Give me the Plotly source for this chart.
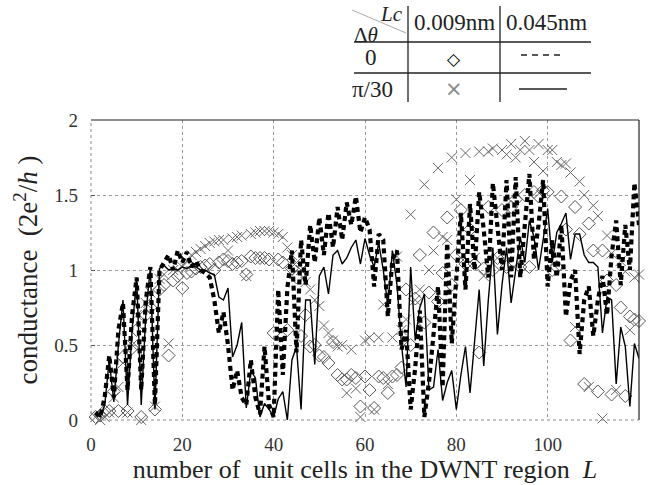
import plotly.graph_objects as go

# ---------------- data ----------------
L = list(range(1, 121))

# dtheta = 0, Lc = 0.009 nm  (diamonds)
g_d0_009 = [0.02, 0.03, 0.06, 0.06, 0.19, 0.06, 0.42, 0.06, 0.48, 0.60,
            0.02, 0.70, 0.75, 0.07, 0.87, 0.90, 0.43, 0.93, 0.96, 0.88,
            0.98, 0.99, 1.01, 1.02, 1.03, 1.04, 1.00, 1.05, 1.07, 1.06,
            1.04, 1.05, 1.06, 0.97, 1.09, 1.08, 1.08, 1.08, 1.07, 0.58,
            1.07, 1.05, 0.60, 1.01, 0.95, 0.56, 0.70, 0.49, 0.50, 0.43,
            0.42, 0.38, 0.52, 0.30, 0.27, 0.27, 0.30, 0.28, 0.09, 0.29,
            0.20, 0.08, 0.29, 0.28, 0.18, 0.29, 0.30, 0.35, 0.87, 0.50,
            0.81, 1.10, 0.65, 0.85, 1.25, 0.79, 0.98, 1.35, 0.90, 1.10,
            1.40, 1.04, 1.27, 1.04, 0.45, 1.01, 1.42, 1.00, 1.08, 1.40,
            1.02, 1.42, 1.47, 1.02, 1.50, 1.02, 1.52, 1.49, 1.53, 1.52,
            1.00, 1.02, 1.49, 1.27, 0.53, 1.42, 1.24, 0.24, 1.31, 1.13,
            0.19, 1.13, 0.93, 0.17, 0.90, 0.75, 0.16, 0.69, 0.67, 0.66]

# dtheta = 0, Lc = 0.045 nm  (dashed line)
g_d0_045 = [0.05, 0.02, 0.15, 0.43, 0.15, 0.60, 0.78, 0.20, 0.70, 0.95,
            0.20, 0.80, 1.02, 0.10, 1.00, 1.05, 1.10, 1.00, 1.13, 1.05,
            1.12, 1.02, 1.06, 1.00, 0.98, 0.95, 0.80, 0.58, 0.72, 0.50,
            0.20, 0.33, 0.15, 0.10, 0.40, 0.15, 0.04, 0.49, 0.10, 0.02,
            0.87, 0.30, 0.88, 1.13, 0.45, 1.20, 0.90, 1.30, 1.05, 1.35,
            1.10, 1.38, 1.15, 1.42, 1.20, 1.45, 1.30, 1.49, 1.25, 1.35,
            1.27, 0.89, 1.24, 1.20, 0.69, 1.07, 1.13, 0.47, 0.60, 0.07,
            0.35, 0.73, 0.02, 0.25, 0.58, 0.89, 0.22, 1.18, 0.51, 0.93,
            1.38, 0.87, 1.44, 1.00, 1.52, 1.27, 0.95, 1.58, 1.30, 1.00,
            1.60, 0.95, 1.62, 0.95, 1.30, 1.64, 1.07, 1.30, 1.60, 0.89,
            1.20, 0.95, 1.30, 0.69, 0.93, 1.00, 0.44, 0.80, 0.89, 0.56,
            0.80, 0.96, 0.70, 1.10, 1.33, 0.90, 1.30, 1.00, 1.58, 1.30]

# dtheta = pi/30, Lc = 0.009 nm  (crosses)
g_p30_009 = [0.02, 0.00, 0.02, 0.05, 0.15, 0.22, 0.38, 0.05, 0.50, 0.70,
             0.00, 0.78, 0.85, 0.09, 0.94, 0.97, 0.51, 1.00, 1.00, 1.02,
             1.06, 1.10, 1.12, 1.14, 1.16, 1.18, 1.19, 1.20, 1.20, 1.13,
             1.21, 1.22, 1.23, 0.96, 1.24, 1.25, 1.26, 1.26, 1.26, 1.25,
             1.24, 1.22, 1.15, 1.10, 1.05, 1.00, 0.92, 0.87, 0.80, 0.76,
             0.63, 0.58, 0.53, 0.49, 0.50, 0.18, 0.47, 0.21, 0.02, 0.53,
             0.55, 0.07, 0.55, 0.77, 0.24, 0.55, 1.09, 0.60, 0.67, 1.37,
             0.80, 0.87, 1.57, 1.00, 1.13, 1.68, 1.22, 1.20, 1.75, 1.47,
             1.08, 1.78, 1.60, 1.08, 1.79, 0.96, 1.79, 1.81, 1.08, 1.80,
             1.77, 1.84, 1.75, 1.80, 1.86, 1.80, 1.72, 1.84, 1.66, 1.80,
             1.80, 1.72, 1.70, 1.71, 1.65, 0.62, 1.59, 1.50, 0.22, 1.43,
             1.36, 0.01, 1.23, 1.11, 0.20, 1.06, 0.99, 0.60, 0.95, 0.97]

# dtheta = pi/30, Lc = 0.045 nm  (solid line)
g_p30_045 = [0.05, 0.02, 0.10, 0.40, 0.12, 0.50, 0.80, 0.10, 0.60, 0.95,
             0.10, 0.70, 1.02, 0.07, 1.01, 1.03, 1.00, 1.01, 1.00, 1.02,
             1.01, 1.03, 1.02, 1.00, 1.00, 0.98, 0.97, 0.82, 0.80, 0.88,
             0.42, 0.50, 0.65, 0.08, 0.33, 0.28, 0.02, 0.11, 0.07, 0.02,
             0.14, 0.19, 0.00, 0.40, 0.49, 0.07, 0.80, 0.80, 0.37, 0.96,
             1.02, 0.84, 1.10, 1.13, 1.04, 1.08, 1.15, 1.20, 1.04, 1.21,
             1.10, 1.02, 1.18, 1.00, 0.76, 1.13, 0.90, 0.50, 0.22, 1.02,
             0.53, 0.75, 0.84, 0.20, 0.22, 0.47, 0.13, 0.25, 0.33, 0.07,
             0.30, 0.49, 0.18, 0.50, 0.87, 0.36, 0.80, 1.15, 0.57, 0.90,
             1.15, 0.78, 1.00, 1.22, 1.05, 1.33, 1.22, 1.00, 1.20, 1.41,
             1.05, 1.25, 1.31, 1.38, 1.07, 1.24, 1.24, 1.10, 1.05, 1.05,
             1.02, 0.58, 0.82, 0.80, 0.24, 0.62, 0.49, 0.09, 0.51, 0.41]

x_ticks = [0, 20, 40, 60, 80, 100, 120]
y_ticks = [0, 0.5, 1, 1.5, 2]
y_tick_text = ["0", "0.5", "1", "1.5", "2"]

# ---------------- figure ----------------
SERIF = "Liberation Serif"
W, H = 650, 485
ML, MR, MT, MB = 91, 11, 120, 65
PW, PH = W - ML - MR, H - MT - MB


def px(xp):
    return (xp - ML) / PW


def py(yp):
    return (H - MB - yp) / PH


fig = go.Figure()

fig.add_trace(go.Scatter(x=L, y=g_d0_009, mode="markers",
                         marker=dict(symbol="diamond-open", size=10,
                                     color="#555", line=dict(width=1)),
                         cliponaxis=False, showlegend=False))
fig.add_trace(go.Scatter(x=L, y=g_p30_009, mode="markers",
                         marker=dict(symbol="x-thin-open", size=10,
                                     color="#666", line=dict(width=1, color="#666")),
                         cliponaxis=False, showlegend=False))
fig.add_trace(go.Scatter(x=L, y=g_p30_045, mode="lines",
                         line=dict(color="black", width=1.4),
                         showlegend=False))
fig.add_trace(go.Scatter(x=L, y=g_d0_045, mode="lines",
                         line=dict(color="black", width=4.2, dash="5px,4px"),
                         showlegend=False))

grid = dict(showgrid=True, gridcolor="#999", griddash="dot", gridwidth=1,
            zeroline=False, automargin=False)
fig.update_xaxes(range=[0, 120], tickvals=x_ticks, ticks="outside", ticklen=7,
                 tickcolor="rgba(0,0,0,0)", **grid,
                 tickfont=dict(family=SERIF, size=19, color="#333"),
                 title=dict(text="number of  unit cells in the DWNT region  <i>L</i>",
                            font=dict(family=SERIF, size=26, color="#222"),
                            standoff=5))
fig.update_yaxes(range=[0, 2], tickvals=y_ticks, ticktext=y_tick_text,
                 ticks="inside", ticklen=4, tickcolor="#555", **grid,
                 ticklabelstandoff=12,
                 tickfont=dict(family=SERIF, size=19, color="#333"),
                 title=dict(text="conductance  (2e<sup>2</sup>/<i>h</i> )",
                            font=dict(family=SERIF, size=27, color="#222"),
                            standoff=8))

shapes = [
    # frame
    dict(type="line", xref="paper", yref="paper", x0=0, x1=1, y0=1, y1=1,
         line=dict(color="#222", width=1.2)),
    dict(type="line", xref="paper", yref="paper", x0=1, x1=1, y0=0, y1=1,
         line=dict(color="#222", width=1.2)),
    dict(type="line", xref="paper", yref="paper", x0=0, x1=0, y0=0, y1=1,
         line=dict(color="#888", width=1, dash="dot")),
    dict(type="line", xref="paper", yref="paper", x0=0, x1=1, y0=0, y1=0,
         line=dict(color="#888", width=1, dash="dot")),
    # table
    dict(type="line", xref="paper", yref="paper", x0=px(354), x1=px(591),
         y0=py(42), y1=py(42), line=dict(color="#222", width=1.3)),
    dict(type="line", xref="paper", yref="paper", x0=px(354), x1=px(591),
         y0=py(73), y1=py(73), line=dict(color="#222", width=1.3)),
    dict(type="line", xref="paper", yref="paper", x0=px(408), x1=px(408),
         y0=py(6), y1=py(102), line=dict(color="#222", width=1.3)),
    dict(type="line", xref="paper", yref="paper", x0=px(500), x1=px(500),
         y0=py(6), y1=py(102), line=dict(color="#222", width=1.3)),
    dict(type="line", xref="paper", yref="paper", x0=px(352), x1=px(406),
         y0=py(10), y1=py(33), line=dict(color="#aaa", width=1)),
    dict(type="line", xref="paper", yref="paper", x0=px(521), x1=px(562),
         y0=py(55), y1=py(55), line=dict(color="#222", width=1.3, dash="6px,5px")),
    dict(type="line", xref="paper", yref="paper", x0=px(519), x1=px(567),
         y0=py(89), y1=py(89), line=dict(color="#222", width=1.3)),
]

annotations = [
    dict(text="<i>Lc</i>", x=px(391), y=py(14), size=21),
    dict(text="Δ<i>θ</i>", x=px(366), y=py(35), size=21),
    dict(text="0.009nm", x=px(454), y=py(22), size=23),
    dict(text="0.045nm", x=px(546), y=py(22), size=23),
    dict(text="0", x=px(371), y=py(58), size=23),
    dict(text="π/30", x=px(372), y=py(90), size=23),
]
annotations = [dict(text=a["text"], x=a["x"], y=a["y"], xref="paper", yref="paper",
                    showarrow=False, xanchor="center", yanchor="middle",
                    font=dict(family=SERIF, size=a["size"], color="#222"))
               for a in annotations]
annotations.append(dict(text="◇", x=px(454), y=py(59), xref="paper", yref="paper",
                        showarrow=False, xanchor="center", yanchor="middle",
                        font=dict(family="DejaVu Sans", size=17, color="#000")))
annotations.append(dict(text="×", x=px(454), y=py(89), xref="paper", yref="paper",
                        showarrow=False, xanchor="center", yanchor="middle",
                        font=dict(family="DejaVu Sans", size=21, color="#888")))

fig.update_layout(width=W, height=H, margin=dict(l=ML, r=MR, t=MT, b=MB),
                  plot_bgcolor="white", paper_bgcolor="white",
                  shapes=shapes, annotations=annotations,
                  font=dict(family=SERIF))

fig.write_html("out.html")
